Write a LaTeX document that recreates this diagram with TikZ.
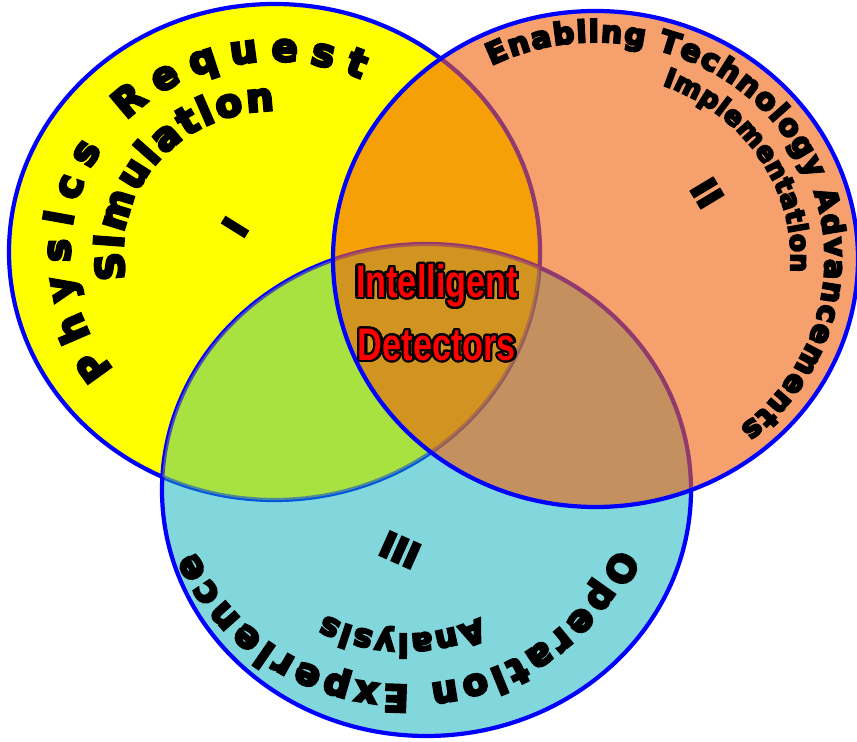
\documentclass[tikz,border=0pt]{standalone}
\usepackage{fontspec}
\usepackage{contour}
\usetikzlibrary{decorations.text}
\newfontfamily\ringfont{DejaVu Sans Bold}[FakeBold=7]
\newfontfamily\narrowfont{Liberation Sans Bold}[FakeStretch=0.75]
\definecolor{sunyellow}{RGB}{255,255,0}
\definecolor{salmonfill}{RGB}{240,97,13}
\definecolor{aquafill}{RGB}{5,175,185}
\contourlength{1.3pt}

\tikzset{
  ring/.style={decorate, decoration={text along path, text align={fit to path}, text={#1}}},
  numeral/.style={font=\ringfont\fontsize{20}{24}\selectfont},
  core/.style={font=\narrowfont\fontsize{26}{30}\selectfont, text=red},
  rim/.style={draw=blue, line width=2.4pt}
}

\begin{document}
\begin{tikzpicture}
    \useasboundingbox (0,0) rectangle (17.14,14.84);
    % Centres
    \coordinate (yc) at (5.49,9.80);
    \coordinate (oc) at (11.91,9.66);
    \coordinate (bc) at (8.53,5.04);
    \coordinate (tc) at (8.10,5.40); % bottom texts

    % Circles
    \filldraw[rim, fill=sunyellow] (yc) ellipse [x radius=5.31, y radius=4.96];
    \filldraw[rim, fill=aquafill, fill opacity=0.5] (bc) ellipse [x radius=5.29, y radius=4.92];
    \begin{scope}
        \clip (yc) ellipse [x radius=5.31, y radius=4.96];
        \fill[sunyellow, fill opacity=0.3] (bc) ellipse [x radius=5.29, y radius=4.92];
    \end{scope}
    \filldraw[rim, fill=salmonfill, fill opacity=0.6] (oc) ellipse [x radius=5.25, y radius=4.96];

    % Ring texts - I
    \path[ring={|\ringfont\fontsize{22}{26}\selectfont|Physics Request}] (yc) ++(218:4.09 and 3.82) arc[start angle=218, end angle=65, x radius=4.09, y radius=3.82];
    \path[ring={|\ringfont\fontsize{22}{26}\selectfont|Simulation}] (yc) ++(191:3.03 and 2.83) arc[start angle=191, end angle=90, x radius=3.03, y radius=2.83];

    % Ring texts - II
    \path[ring={|\ringfont\fontsize{17}{20}\selectfont|Enabling Technology Advancements}] (oc) ++(117:4.59 and 4.34) arc[start angle=117, end angle=-51, x radius=4.59, y radius=4.34];
    \path[ring={|\ringfont\fontsize{15}{18}\selectfont|Implementation}] (oc) ++(70:3.91 and 3.70) arc[start angle=70, end angle=-4, x radius=3.91, y radius=3.70];

    % Ring texts - III
    \path[ring={|\ringfont\fontsize{21}{24}\selectfont|Operation Experience}] (tc) ++(-21:4.52 and 4.26) arc[start angle=-21, end angle=-158, x radius=4.52, y radius=4.26];
    \path[ring={|\ringfont\fontsize{18}{21}\selectfont|Analysis}] (tc) ++(-64:3.42 and 3.24) arc[start angle=-64, end angle=-118, x radius=3.42, y radius=3.24];

    % Numerals
    \node[numeral, rotate=58] (one) at (4.70,10.30) {I};
    \node[numeral, rotate=-59] (two) at (14.14,10.98) {II};
    \node[numeral, rotate=156] (three) at (8.00,3.84) {III};

    % Centre
    \node[core] (intel) at (8.74,9.10) {\contour{black}{Intelligent}};
    \node[core] (detect) at (8.74,7.92) {\contour{black}{Detectors}};
\end{tikzpicture}
\end{document}
